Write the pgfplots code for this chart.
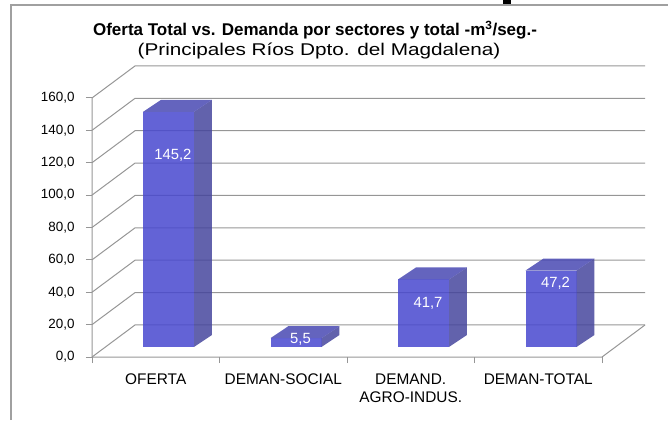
\documentclass[border=0pt]{standalone}
\usepackage{pgfplots}
\pgfplotsset{compat=1.18}
\usepackage{pgfplotstable}
\usepackage{fontspec}
\setmainfont{Liberation Sans}

\definecolor{gridc}{RGB}{150,150,150}
\definecolor{framec}{RGB}{160,160,160}
\definecolor{barfront}{RGB}{72,72,207}
\definecolor{barside}{RGB}{70,70,157}
\definecolor{bartop}{RGB}{73,73,179}

% values of the bars (v) and vertical position of their labels (ly)
\pgfplotstableread{
idx v ly
0 145.2 124.7
1 5.5 11.1
2 41.7 33.3
3 47.2 45.7
}\data

\def\dX{0.3373}  % depth of the box, x units
\def\dY{19.77}   % depth of the box, y units

\tikzset{lbl/.style={text=white, font=\fontsize{14.8}{16}\selectfont, inner sep=0pt}}

\begin{document}
\begin{tikzpicture}[x=1pt,y=1pt]
\useasboundingbox (0,0) rectangle (668,420);
\draw[framec, line width=1.4pt] (11,0) -- (11,415) -- (668,415);
\fill[black] (503,415.8) rectangle (511,420);
\node[font=\bfseries\fontsize{17}{19}\selectfont] at (315,390) {Oferta Total vs. Demanda por sectores y total -m\textsuperscript{3}/seg.-};
\node[font=\fontsize{17}{19}\selectfont, xscale=1.22] at (319,369) {(Principales Ríos Dpto. del Magdalena)};

\begin{axis}[
  at={(92pt,63pt)}, anchor=origin,
  x=127.5pt, y=1.619pt,
  xmin=0, xmax=4.3373, ymin=0, ymax=179.77,
  clip=false,
  axis line style={draw=none},
  tick pos=left,
  tick align=outside,
  major tick length=6pt,
  tick style={gridc, line width=1pt},
  ytick={0,20,...,160},
  xtick={0,1,2,3,4},
  x tick label as interval,
  xticklabels={OFERTA, DEMAN-SOCIAL, {DEMAND.\\AGRO-INDUS.}, DEMAN-TOTAL},
  xticklabel style={font=\fontsize{15.4}{18}\selectfont, align=center, text=black, yshift=-7pt},
  yticklabel style={font=\fontsize{13.4}{14}\selectfont, text=black, xshift=-8pt,
    /pgf/number format/.cd, fixed, fixed zerofill, precision=1, use comma, assume math mode=true},
]
% walls: gridlines on the left wall and the back wall
\pgfplotsinvokeforeach{0,20,40,60,80,100,120,140,160}{
  \pgfmathsetmacro\gb{#1+\dY}
  \pgfmathsetmacro\gx{4+\dX}
  \edef\doit{\noexpand\addplot[gridc, line width=1pt, no marks, forget plot]
    coordinates {(0,#1) (\dX,\gb) (\gx,\gb)};}
  \doit
}
% front axis, floor front edge and right edge
\addplot[gridc, line width=1pt, no marks, forget plot] coordinates {(0,160) (0,0) (4,0) (4.3373,19.77)};

% bars (3D boxes)
\pgfplotsinvokeforeach{0,1,2,3}{
  \pgfplotstablegetelem{#1}{v}\of\data \let\val\pgfplotsretval
  \pgfplotstablegetelem{#1}{ly}\of\data \let\ly\pgfplotsretval
  \pgfmathsetmacro\xa{#1+0.4}
  \pgfmathsetmacro\xb{#1+0.8}
  \pgfmathsetmacro\xc{#1+0.941}
  \pgfmathsetmacro\xd{#1+0.541}
  \pgfmathsetmacro\xl{#1+0.635}
  \pgfmathsetmacro\yt{\val+6.18}
  \pgfmathsetmacro\ytb{\val+13.59}
  \edef\doit{%
    \noexpand\addplot[draw=none, fill=barfront, fill opacity=0.85, forget plot]
      coordinates {(\xa,6.18) (\xb,6.18) (\xb,\yt) (\xa,\yt)};
    \noexpand\addplot[draw=none, fill=barside, fill opacity=0.85, forget plot]
      coordinates {(\xb,6.18) (\xc,13.59) (\xc,\ytb) (\xb,\yt)};
    \noexpand\addplot[draw=none, fill=bartop, fill opacity=0.85, forget plot]
      coordinates {(\xa,\yt) (\xb,\yt) (\xc,\ytb) (\xd,\ytb)};
    \noexpand\node[lbl] at (axis cs:\xl,\ly)
      {\noexpand\pgfmathprintnumber[fixed,fixed zerofill,precision=1,use comma,assume math mode=true]{\val}};
  }%
  \doit
}
\end{axis}
\end{tikzpicture}
\end{document}
